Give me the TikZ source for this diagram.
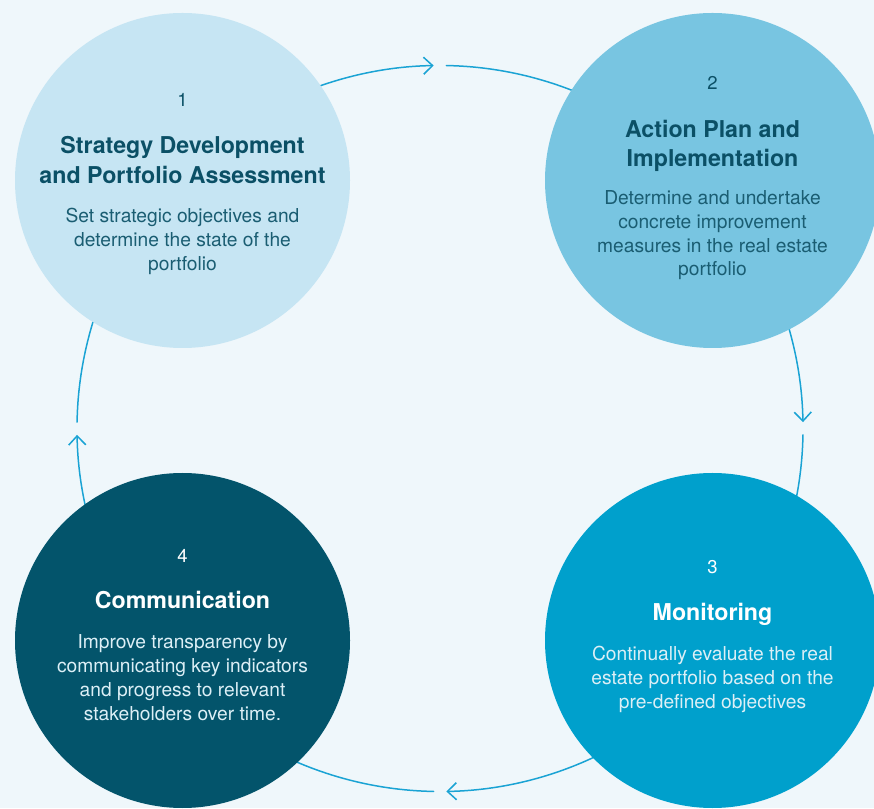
\documentclass[tikz,border=0pt]{standalone}
\usepackage{fontspec}
\setmainfont{TeX Gyre Heros}
\usetikzlibrary{arrows.meta}
\definecolor{bg}{HTML}{EFF7FB}
\definecolor{cone}{HTML}{C6E5F3}
\definecolor{ctwo}{HTML}{78C5E1}
\definecolor{cthree}{HTML}{00A0CC}
\definecolor{cfour}{HTML}{03546B}
\definecolor{darktxt}{HTML}{0B5066}
\definecolor{bodytxt}{HTML}{1A5D72}
\definecolor{lighttxt}{HTML}{DCEFF6}
\definecolor{flowc}{HTML}{1AA3D4}
\newcommand{\stackedtext}[1]{\begin{tabular}[t]{@{}c@{}}#1\end{tabular}}
\begin{document}
\begin{tikzpicture}[x=1pt,y=1pt,
  stage/.style={circle, minimum size=335pt, inner sep=0pt, draw=none},
  flow/.style={draw=flowc, line width=1.5pt, line cap=round},
  tip/.style={-{Straight Barb[length=9pt,width=17pt,line width=1.5pt]}},
  numtxt/.style={anchor=base, inner sep=0pt, font=\fontsize{18.5}{18.5}\selectfont},
  ttltxt/.style={anchor=base, inner sep=0pt, font=\fontsize{23.2}{30}\selectfont\bfseries},
  bodytxt/.style={anchor=base, inner sep=0pt, font=\fontsize{19.2}{23.6}\selectfont}]
\fill[bg] (0,0) rectangle (874,808);
\useasboundingbox (0,0) rectangle (874,808);
\clip (0,0) rectangle (874,808);
\coordinate (O) at (440,379.5);
% connecting arcs
\draw[flow,tip] (O) ++(115:363) arc[start angle=115, end angle=91, radius=363];
\draw[flow] (O) ++(89:363) arc[start angle=89, end angle=62, radius=363];
\draw[flow,tip] (O) ++(22:363) arc[start angle=22, end angle=1, radius=363];
\draw[flow] (O) ++(-1:363) arc[start angle=-1, end angle=-18, radius=363];
\draw[flow,tip] (O) ++(-60:363) arc[start angle=-60, end angle=-89, radius=363];
\draw[flow] (O) ++(-91:363) arc[start angle=-91, end angle=-120, radius=363];
\draw[flow,tip] (O) ++(200:363) arc[start angle=200, end angle=181, radius=363];
\draw[flow] (O) ++(179:363) arc[start angle=179, end angle=155, radius=363];
% circles
\node[stage, fill=cone] (s1) at (182.5,627.5) {};
\node[stage, fill=ctwo] (s2) at (712.5,627.5) {};
\node[stage, fill=cthree] (s3) at (712.5,167.5) {};
\node[stage, fill=cfour] (s4) at (182.5,167.5) {};
% stage 1
\node[numtxt, text=darktxt] (n1) at (182.5,701) {1};
\node[ttltxt, text=darktxt] (t1) at (182.5,654) {\stackedtext{Strategy Development\\and Portfolio Assessment}};
\node[bodytxt, text=bodytxt] (b1) at (182.5,585) {\stackedtext{Set strategic objectives and\\determine the state of the\\portfolio}};
% stage 2
\node[numtxt, text=darktxt] (n2) at (712.5,718.5) {2};
\node[ttltxt, text=darktxt, font=\fontsize{23.2}{29}\selectfont\bfseries] (t2) at (712.5,670) {\stackedtext{Action Plan and\\Implementation}};
\node[bodytxt, text=bodytxt] (b2) at (712.5,603) {\stackedtext{Determine and undertake\\concrete improvement\\measures in the real estate\\portfolio}};
% stage 3
\node[numtxt, text=white] (n3) at (712.5,234.5) {3};
\node[ttltxt, text=white] (t3) at (712.5,187) {Monitoring};
\node[bodytxt, text=lighttxt, font=\fontsize{19.2}{24}\selectfont] (b3) at (712.5,148) {\stackedtext{Continually evaluate the real\\estate portfolio based on the\\pre-defined objectives}};
% stage 4
\node[numtxt, text=white] (n4) at (182.5,245.5) {4};
\node[ttltxt, text=white] (t4) at (182.5,199) {Communication};
\node[bodytxt, text=lighttxt, font=\fontsize{19.2}{24}\selectfont] (b4) at (182.5,160) {\stackedtext{Improve transparency by\\communicating key indicators\\and progress to relevant\\stakeholders over time.}};
\end{tikzpicture}
\end{document}
